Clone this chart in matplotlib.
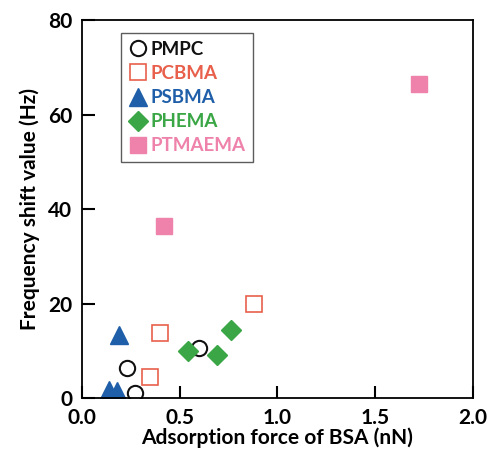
import matplotlib.pyplot as plt

plt.rcParams['font.family'] = ['Lato', 'DejaVu Sans']
plt.rcParams['font.weight'] = 'bold'

# datos
pmpc_x = [0.27, 0.23, 0.60]
pmpc_y = [1.0, 6.3, 10.6]
pcbma_x = [0.88, 0.40, 0.35]
pcbma_y = [19.9, 13.7, 4.4]
psbma_x = [0.19, 0.14, 0.18]
psbma_y = [13.3, 1.7, 1.5]
phema_x = [0.54, 0.69, 0.76]
phema_y = [10.0, 9.1, 14.4]
ptmaema_x = [0.42, 1.725]
ptmaema_y = [36.5, 66.5]

labels = ['PMPC', 'PCBMA', 'PSBMA', 'PHEMA', 'PTMAEMA']
colors = ['#111111', '#e8604c', '#1f5ea8', '#3aa645', '#ef82aa']

fig = plt.figure(figsize=(4.88, 4.57), dpi=100)
ax = fig.add_axes([0.168, 0.129, 0.801, 0.827])

ax.plot(pmpc_x, pmpc_y, 'o', ms=11, mfc='white', mec=colors[0], mew=1.5, ls='none', label=labels[0])
ax.plot(pcbma_x, pcbma_y, 's', ms=12, mfc='none', mec=colors[1], mew=1.2, ls='none', label=labels[1])
ax.plot(psbma_x, psbma_y, '^', ms=13, color=colors[2], ls='none', label=labels[2])
ax.plot(phema_x, phema_y, 'D', ms=10, color=colors[3], ls='none', label=labels[3])
ax.plot(ptmaema_x, ptmaema_y, 's', ms=12, color=colors[4], ls='none', label=labels[4])

ax.set_xlim(0, 2.0)
ax.set_ylim(0, 80)
ax.set_xticks([0, 0.5, 1.0, 1.5, 2.0])
ax.set_xticklabels(['0.0', '0.5', '1.0', '1.5', '2.0'])
ax.set_yticks([0, 20, 40, 60, 80])
ax.tick_params(direction='in', length=9, width=1.5, labelsize=15, pad=7)
for s in ax.spines.values():
    s.set_linewidth(1.3)

ax.set_xlabel('Adsorption force of BSA (nN)', fontsize=15, fontweight='bold', labelpad=0)
ax.set_ylabel('Frequency shift value (Hz)', fontsize=15, fontweight='bold', labelpad=6)

leg = ax.legend(loc='upper left', bbox_to_anchor=(0.1, 0.965), fontsize=13.5, frameon=True,
                fancybox=False, edgecolor='#333333', handletextpad=0.15, handlelength=1.0,
                labelspacing=0.38, borderpad=0.4, borderaxespad=0, markerscale=1.0)
leg.get_frame().set_linewidth(1.0)
for t, c in zip(leg.get_texts(), colors):
    t.set_color(c)

plt.savefig('out.png')
